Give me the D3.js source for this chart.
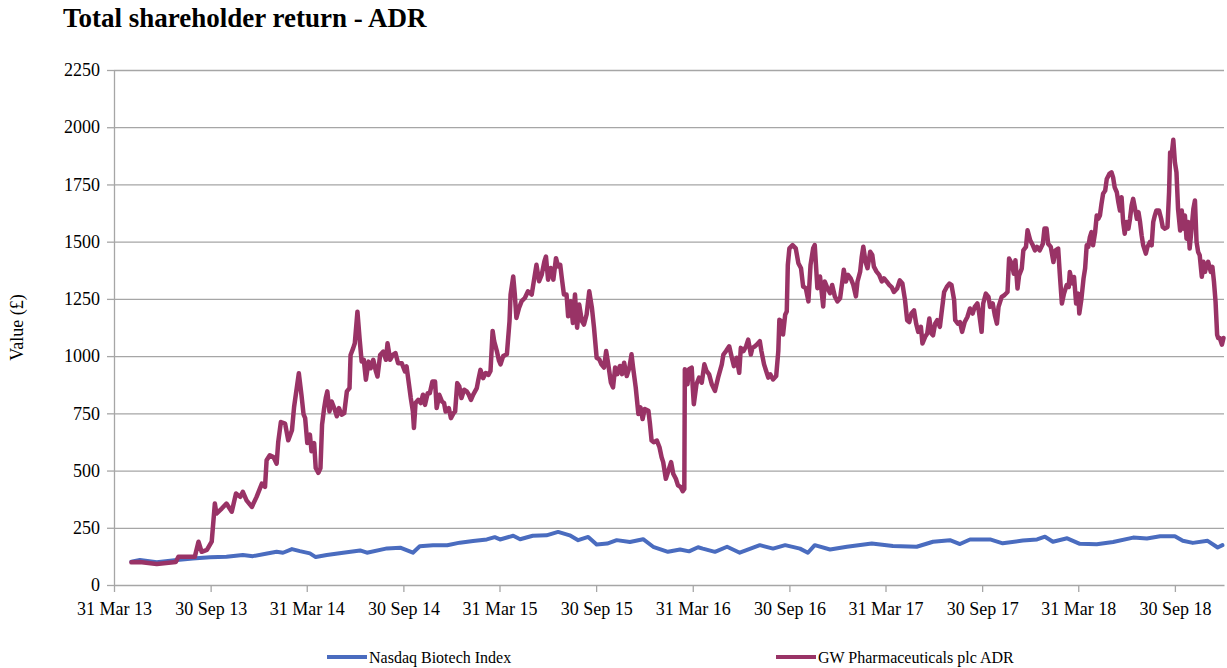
<!DOCTYPE html>
<html>
<head>
<meta charset="utf-8">
<script src="https://cdn.jsdelivr.net/npm/d3@7"></script>
<style>
body { margin: 0; background: #fff; }
svg text { font-family: "Liberation Serif", "Times New Roman", serif; fill: #000; }
.axis path, .axis line { stroke: #a6a6a6; stroke-width: 1.3; }
.grid line { stroke: #a6a6a6; stroke-width: 1.3; }
.grid path { display: none; }
</style>
</head>
<body>
<svg width="1227" height="668"></svg>
<script>
var seriesNames = ["Nasdaq Biotech Index", "GW Pharmaceuticals plc ADR"];
var seriesColors = ["#4a6cbf", "#993366"];

var tickDates = ["2013-03-31", "2013-09-30", "2014-03-31", "2014-09-30", "2015-03-31", "2015-09-30",
    "2016-03-31", "2016-09-30", "2017-03-31", "2017-09-30", "2018-03-31", "2018-09-30"];
var tickLabels = ["31 Mar 13", "30 Sep 13", "31 Mar 14", "30 Sep 14", "31 Mar 15", "30 Sep 15",
    "31 Mar 16", "30 Sep 16", "31 Mar 17", "30 Sep 17", "31 Mar 18", "30 Sep 18"];
var yTicks = [0, 250, 500, 750, 1000, 1250, 1500, 1750, 2000, 2250];

var nasdaq = [
    ["2013-05-03", 102], ["2013-05-19", 109], ["2013-06-20", 99], ["2013-07-28", 109], ["2013-08-27", 116],
    ["2013-09-29", 121], ["2013-10-30", 123], ["2013-11-30", 131], ["2013-12-19", 126], ["2014-01-15", 138],
    ["2014-02-02", 145], ["2014-02-14", 141], ["2014-03-03", 157], ["2014-03-18", 148], ["2014-04-06", 138],
    ["2014-04-17", 122], ["2014-05-08", 131], ["2014-06-08", 141], ["2014-07-10", 151], ["2014-07-23", 141],
    ["2014-08-30", 160], ["2014-09-24", 163], ["2014-10-18", 141], ["2014-10-31", 169], ["2014-11-25", 174],
    ["2014-12-22", 174], ["2015-01-15", 185], ["2015-02-09", 192], ["2015-03-07", 199], ["2015-03-22", 209],
    ["2015-04-01", 199], ["2015-04-26", 215], ["2015-05-09", 200], ["2015-06-02", 215], ["2015-06-28", 217],
    ["2015-07-20", 232], ["2015-08-11", 217], ["2015-08-27", 196], ["2015-09-15", 210], ["2015-10-01", 177],
    ["2015-10-21", 181], ["2015-11-08", 196], ["2015-12-03", 188], ["2015-12-28", 200], ["2016-01-16", 167],
    ["2016-02-13", 145], ["2016-03-07", 155], ["2016-03-24", 147], ["2016-04-10", 165], ["2016-04-19", 159],
    ["2016-05-12", 145], ["2016-06-04", 167], ["2016-06-28", 141], ["2016-08-05", 174], ["2016-08-30", 159],
    ["2016-09-22", 174], ["2016-10-20", 159], ["2016-11-04", 141], ["2016-11-17", 174], ["2016-12-16", 155],
    ["2017-01-17", 167], ["2017-03-05", 181], ["2017-04-14", 170], ["2017-05-29", 167], ["2017-06-29", 189],
    ["2017-07-31", 196], ["2017-08-19", 179], ["2017-09-07", 199], ["2017-10-15", 199], ["2017-11-08", 182],
    ["2017-12-16", 194], ["2018-01-12", 199], ["2018-01-27", 211], ["2018-02-11", 189], ["2018-03-10", 204],
    ["2018-04-03", 180], ["2018-05-05", 178], ["2018-06-05", 188], ["2018-07-13", 207], ["2018-08-08", 203],
    ["2018-09-02", 213], ["2018-09-30", 213], ["2018-10-15", 193], ["2018-11-03", 184], ["2018-12-01", 193],
    ["2018-12-20", 164], ["2018-12-29", 174]
];

var gw = [
    ["2013-05-03", 99], ["2013-05-19", 100], ["2013-06-20", 92], ["2013-07-26", 100], ["2013-07-31", 123], ["2013-08-31", 123],
    ["2013-09-07", 189], ["2013-09-13", 145], ["2013-09-23", 153], ["2013-10-02", 189], ["2013-10-08", 356], ["2013-10-11", 312],
    ["2013-10-21", 334], ["2013-10-30", 356], ["2013-11-09", 320], ["2013-11-17", 400], ["2013-11-25", 385], ["2013-11-30", 407],
    ["2013-12-07", 370], ["2013-12-17", 341], ["2013-12-26", 385], ["2014-01-05", 443], ["2014-01-11", 429], ["2014-01-14", 545],
    ["2014-01-20", 567], ["2014-01-27", 559], ["2014-02-02", 530], ["2014-02-05", 625], ["2014-02-10", 712], ["2014-02-18", 705],
    ["2014-02-24", 632], ["2014-03-03", 676], ["2014-03-07", 777], ["2014-03-16", 925], ["2014-03-21", 830], ["2014-03-25", 745],
    ["2014-03-28", 729], ["2014-04-01", 620], ["2014-04-06", 657], ["2014-04-09", 584], ["2014-04-14", 620], ["2014-04-17", 511],
    ["2014-04-22", 490], ["2014-04-26", 511], ["2014-04-29", 700], ["2014-05-03", 773], ["2014-05-06", 817], ["2014-05-09", 846],
    ["2014-05-13", 758], ["2014-05-17", 802], ["2014-05-22", 773], ["2014-05-27", 737], ["2014-05-31", 773], ["2014-06-05", 744],
    ["2014-06-10", 751], ["2014-06-15", 846], ["2014-06-20", 860], ["2014-06-22", 1005], ["2014-06-27", 1035], ["2014-06-30", 1056],
    ["2014-07-05", 1194], ["2014-07-09", 1078], ["2014-07-13", 976], ["2014-07-17", 984], ["2014-07-21", 897], ["2014-07-26", 976],
    ["2014-07-30", 947], ["2014-08-04", 984], ["2014-08-09", 933], ["2014-08-12", 911], ["2014-08-17", 1005], ["2014-08-23", 1020],
    ["2014-08-28", 984], ["2014-08-31", 1056], ["2014-09-05", 984], ["2014-09-10", 1005], ["2014-09-15", 1013], ["2014-09-20", 969],
    ["2014-09-27", 969], ["2014-10-03", 933], ["2014-10-06", 955], ["2014-10-09", 904], ["2014-10-14", 817], ["2014-10-18", 758],
    ["2014-10-20", 686], ["2014-10-23", 795], ["2014-10-28", 809], ["2014-11-02", 795], ["2014-11-06", 831], ["2014-11-10", 787],
    ["2014-11-15", 838], ["2014-11-19", 838], ["2014-11-24", 889], ["2014-11-29", 889], ["2014-12-02", 773], ["2014-12-07", 831],
    ["2014-12-12", 802], ["2014-12-16", 795], ["2014-12-19", 758], ["2014-12-25", 773], ["2014-12-29", 729], ["2015-01-03", 751],
    ["2015-01-06", 758], ["2015-01-10", 882], ["2015-01-14", 867], ["2015-01-18", 817], ["2015-01-23", 853], ["2015-01-28", 846],
    ["2015-02-01", 831], ["2015-02-05", 809], ["2015-02-09", 831], ["2015-02-16", 860], ["2015-02-19", 897], ["2015-02-23", 940],
    ["2015-02-28", 904], ["2015-03-05", 926], ["2015-03-10", 918], ["2015-03-14", 935], ["2015-03-18", 1110], ["2015-03-21", 1064],
    ["2015-03-26", 1022], ["2015-03-30", 980], ["2015-04-02", 964], ["2015-04-07", 1000], ["2015-04-14", 1008], ["2015-04-19", 1153],
    ["2015-04-21", 1269], ["2015-04-26", 1348], ["2015-04-29", 1269], ["2015-05-02", 1167], ["2015-05-07", 1211], ["2015-05-12", 1240],
    ["2015-05-18", 1254], ["2015-05-24", 1283], ["2015-05-31", 1269], ["2015-06-04", 1327], ["2015-06-09", 1399], ["2015-06-14", 1327],
    ["2015-06-19", 1356], ["2015-06-24", 1414], ["2015-06-27", 1435], ["2015-07-01", 1334], ["2015-07-06", 1385], ["2015-07-11", 1334],
    ["2015-07-16", 1428], ["2015-07-20", 1392], ["2015-07-24", 1399], ["2015-07-27", 1341], ["2015-07-31", 1269], ["2015-08-05", 1269],
    ["2015-08-08", 1174], ["2015-08-13", 1240], ["2015-08-17", 1145], ["2015-08-21", 1269], ["2015-08-25", 1124], ["2015-08-29", 1225],
    ["2015-09-03", 1153], ["2015-09-07", 1138], ["2015-09-12", 1182], ["2015-09-17", 1283], ["2015-09-22", 1211], ["2015-09-26", 1124],
    ["2015-10-01", 993], ["2015-10-06", 986], ["2015-10-10", 964], ["2015-10-15", 950], ["2015-10-19", 1022], ["2015-10-23", 964],
    ["2015-10-28", 884], ["2015-11-01", 863], ["2015-11-05", 950], ["2015-11-09", 921], ["2015-11-14", 957], ["2015-11-18", 921],
    ["2015-11-22", 971], ["2015-11-27", 913], ["2015-12-02", 950], ["2015-12-06", 1008], ["2015-12-09", 950], ["2015-12-14", 863],
    ["2015-12-19", 747], ["2015-12-23", 776], ["2015-12-27", 725], ["2015-12-31", 769], ["2016-01-07", 761], ["2016-01-10", 703],
    ["2016-01-13", 631], ["2016-01-17", 624], ["2016-01-23", 631], ["2016-01-28", 602], ["2016-02-01", 558], ["2016-02-04", 537],
    ["2016-02-09", 464], ["2016-02-14", 500], ["2016-02-19", 537], ["2016-02-23", 486], ["2016-02-28", 464], ["2016-03-03", 435],
    ["2016-03-08", 428], ["2016-03-12", 410], ["2016-03-15", 420], ["2016-03-16", 943], ["2016-03-21", 877], ["2016-03-24", 943],
    ["2016-03-29", 950], ["2016-03-31", 862], ["2016-04-02", 790], ["2016-04-07", 877], ["2016-04-12", 906], ["2016-04-17", 884],
    ["2016-04-22", 964], ["2016-04-26", 935], ["2016-05-01", 920], ["2016-05-06", 877], ["2016-05-12", 848], ["2016-05-18", 906],
    ["2016-05-25", 964], ["2016-05-28", 1007], ["2016-06-02", 1022], ["2016-06-08", 1043], ["2016-06-13", 993], ["2016-06-17", 956],
    ["2016-06-22", 993], ["2016-06-27", 927], ["2016-06-30", 1036], ["2016-07-05", 1022], ["2016-07-10", 1043], ["2016-07-14", 1072],
    ["2016-07-19", 1007], ["2016-07-22", 1036], ["2016-07-27", 1043], ["2016-07-30", 1050], ["2016-08-05", 1065], ["2016-08-08", 1022],
    ["2016-08-13", 964], ["2016-08-17", 935], ["2016-08-21", 906], ["2016-08-25", 920], ["2016-08-30", 898], ["2016-09-05", 913],
    ["2016-09-09", 1022], ["2016-09-11", 1159], ["2016-09-15", 1152], ["2016-09-18", 1094], ["2016-09-22", 1181], ["2016-09-25", 1195],
    ["2016-09-27", 1398], ["2016-09-30", 1471], ["2016-10-06", 1485], ["2016-10-12", 1471], ["2016-10-17", 1406], ["2016-10-22", 1384],
    ["2016-10-26", 1304], ["2016-10-31", 1297], ["2016-11-05", 1239], ["2016-11-09", 1398], ["2016-11-14", 1471], ["2016-11-17", 1485],
    ["2016-11-22", 1297], ["2016-11-27", 1348], ["2016-11-30", 1282], ["2016-12-03", 1217], ["2016-12-06", 1326], ["2016-12-11", 1297],
    ["2016-12-16", 1275], ["2016-12-20", 1311], ["2016-12-25", 1261], ["2016-12-30", 1239], ["2017-01-04", 1253], ["2017-01-09", 1340],
    ["2017-01-11", 1377], ["2017-01-15", 1326], ["2017-01-19", 1355], ["2017-01-24", 1340], ["2017-01-29", 1311], ["2017-02-03", 1261],
    ["2017-02-06", 1326], ["2017-02-11", 1369], ["2017-02-14", 1434], ["2017-02-17", 1478], ["2017-02-21", 1413], ["2017-02-25", 1384],
    ["2017-03-02", 1456], ["2017-03-06", 1442], ["2017-03-09", 1391], ["2017-03-14", 1369], ["2017-03-19", 1355], ["2017-03-24", 1326],
    ["2017-03-28", 1340], ["2017-04-02", 1326], ["2017-04-07", 1311], ["2017-04-12", 1300], ["2017-04-16", 1280], ["2017-04-22", 1295],
    ["2017-04-27", 1331], ["2017-05-02", 1317], ["2017-05-07", 1244], ["2017-05-11", 1157], ["2017-05-15", 1149], ["2017-05-19", 1186],
    ["2017-05-24", 1200], ["2017-05-28", 1142], ["2017-06-01", 1106], ["2017-06-06", 1128], ["2017-06-09", 1055], ["2017-06-14", 1084],
    ["2017-06-18", 1099], ["2017-06-22", 1164], ["2017-06-26", 1099], ["2017-06-29", 1091], ["2017-07-03", 1142], ["2017-07-07", 1157],
    ["2017-07-12", 1128], ["2017-07-15", 1186], ["2017-07-20", 1280], ["2017-07-25", 1302], ["2017-07-30", 1317], ["2017-08-03", 1310],
    ["2017-08-08", 1244], ["2017-08-10", 1157], ["2017-08-15", 1142], ["2017-08-19", 1149], ["2017-08-23", 1106], ["2017-08-28", 1149],
    ["2017-09-02", 1171], ["2017-09-07", 1208], ["2017-09-12", 1186], ["2017-09-16", 1215], ["2017-09-21", 1230], ["2017-09-24", 1193],
    ["2017-09-29", 1106], ["2017-10-02", 1230], ["2017-10-07", 1273], ["2017-10-12", 1259], ["2017-10-15", 1215], ["2017-10-20", 1230],
    ["2017-10-24", 1179], ["2017-10-28", 1142], ["2017-10-31", 1215], ["2017-11-06", 1259], ["2017-11-11", 1266], ["2017-11-17", 1280],
    ["2017-11-20", 1426], ["2017-11-25", 1404], ["2017-11-29", 1360], ["2017-12-02", 1419], ["2017-12-06", 1295], ["2017-12-09", 1353],
    ["2017-12-14", 1382], ["2017-12-17", 1462], ["2017-12-22", 1477], ["2017-12-25", 1550], ["2017-12-30", 1506], ["2018-01-04", 1484],
    ["2018-01-08", 1462], ["2018-01-12", 1477], ["2018-01-17", 1462], ["2018-01-23", 1491], ["2018-01-26", 1557], ["2018-01-30", 1557],
    ["2018-02-02", 1491], ["2018-02-07", 1477], ["2018-02-12", 1411], ["2018-02-16", 1462], ["2018-02-21", 1470], ["2018-02-24", 1360],
    ["2018-02-28", 1230], ["2018-03-04", 1273], ["2018-03-09", 1310], ["2018-03-13", 1302], ["2018-03-15", 1368], ["2018-03-20", 1317],
    ["2018-03-23", 1346], ["2018-03-27", 1230], ["2018-03-31", 1273], ["2018-04-02", 1186], ["2018-04-06", 1250], ["2018-04-10", 1339],
    ["2018-04-13", 1383], ["2018-04-16", 1484], ["2018-04-19", 1477], ["2018-04-22", 1520], ["2018-04-25", 1542], ["2018-04-28", 1484],
    ["2018-05-02", 1542], ["2018-05-05", 1614], ["2018-05-08", 1600], ["2018-05-11", 1614], ["2018-05-14", 1665], ["2018-05-17", 1709],
    ["2018-05-21", 1723], ["2018-05-24", 1774], ["2018-05-29", 1796], ["2018-06-02", 1803], ["2018-06-05", 1781], ["2018-06-08", 1737],
    ["2018-06-12", 1716], ["2018-06-15", 1672], ["2018-06-18", 1636], ["2018-06-21", 1694], ["2018-06-24", 1586], ["2018-06-27", 1535],
    ["2018-06-30", 1586], ["2018-07-04", 1557], ["2018-07-07", 1600], ["2018-07-10", 1658], ["2018-07-13", 1687], ["2018-07-16", 1651],
    ["2018-07-20", 1600], ["2018-07-23", 1629], ["2018-07-26", 1586], ["2018-07-29", 1528], ["2018-08-01", 1484], ["2018-08-06", 1448],
    ["2018-08-09", 1477], ["2018-08-14", 1499], ["2018-08-17", 1484], ["2018-08-20", 1586], ["2018-08-23", 1614], ["2018-08-26", 1636],
    ["2018-08-31", 1636], ["2018-09-04", 1600], ["2018-09-07", 1564], ["2018-09-11", 1557], ["2018-09-16", 1564], ["2018-09-19", 1716],
    ["2018-09-21", 1890], ["2018-09-24", 1882], ["2018-09-27", 1945], ["2018-09-30", 1846], ["2018-10-03", 1803], ["2018-10-06", 1643],
    ["2018-10-10", 1549], ["2018-10-13", 1636], ["2018-10-16", 1557], ["2018-10-19", 1614], ["2018-10-22", 1513], ["2018-10-25", 1586],
    ["2018-10-28", 1470], ["2018-10-31", 1542], ["2018-11-04", 1643], ["2018-11-07", 1680], ["2018-11-10", 1499], ["2018-11-13", 1455],
    ["2018-11-16", 1441], ["2018-11-20", 1347], ["2018-11-23", 1412], ["2018-11-26", 1368], ["2018-11-29", 1397], ["2018-12-02", 1412],
    ["2018-12-07", 1368], ["2018-12-10", 1390], ["2018-12-13", 1325], ["2018-12-16", 1238], ["2018-12-19", 1093], ["2018-12-21", 1079],
    ["2018-12-24", 1079], ["2018-12-28", 1050], ["2018-12-31", 1079]
];

var svg = d3.select("svg"),
    margin = { top: 70, right: 3, bottom: 83, left: 114 },
    width = +svg.attr("width") - margin.left - margin.right,
    height = +svg.attr("height") - margin.top - margin.bottom;

var parseDate = d3.timeParse("%Y-%m-%d");

var x = d3.scaleTime()
    .domain([parseDate("2013-03-31"), parseDate("2019-01-01")])
    .range([0, width]);
var y = d3.scaleLinear()
    .domain([0, 2250])
    .range([height, 0]);

svg.append("text")
    .attr("x", 63)
    .attr("y", 27)
    .style("font-size", "27px")
    .style("font-weight", "bold")
    .text("Total shareholder return - ADR");

svg.append("text")
    .attr("transform", "translate(23," + (margin.top + height / 2) + ") rotate(-90)")
    .attr("text-anchor", "middle")
    .style("font-size", "18px")
    .text("Value (£)");

var g = svg.append("g")
    .attr("transform", "translate(" + margin.left + "," + margin.top + ")");

g.append("g")
    .attr("class", "grid")
    .call(d3.axisLeft(y).tickValues(yTicks.slice(1)).tickSize(-width).tickFormat(""));

g.append("g")
    .attr("class", "axis axis--y")
    .call(d3.axisLeft(y).tickValues(yTicks).tickFormat(d3.format("d"))
        .tickSize(7).tickSizeOuter(0).tickPadding(7))
    .selectAll("text")
    .style("font-size", "18px");

g.append("g")
    .attr("class", "axis axis--x")
    .attr("transform", "translate(0," + height + ")")
    .call(d3.axisBottom(x)
        .tickValues(tickDates.map(parseDate))
        .tickFormat(function(d, i) { return tickLabels[i]; })
        .tickSize(7).tickSizeOuter(0).tickPadding(10))
    .selectAll("text")
    .style("font-size", "18px");

var line = d3.line()
    .x(function(d) { return x(parseDate(d[0])); })
    .y(function(d) { return y(d[1]); });

[nasdaq, gw].forEach(function(series, i) {
    g.append("path")
        .datum(series)
        .attr("fill", "none")
        .attr("stroke", seriesColors[i])
        .attr("stroke-width", i == 0 ? 4 : 4.5)
        .attr("stroke-linejoin", "round")
        .attr("stroke-linecap", "round")
        .attr("d", line);
});

var legendX = [327, 776];
var legend = svg.selectAll(".legend")
    .data(seriesNames)
    .enter().append("g")
    .attr("class", "legend")
    .attr("transform", function(d, i) { return "translate(" + legendX[i] + ",657)"; });

legend.append("line")
    .attr("x1", 0).attr("x2", 40)
    .attr("stroke", function(d, i) { return seriesColors[i]; })
    .attr("stroke-width", 4);

legend.append("text")
    .attr("x", 42)
    .attr("dy", "0.35em")
    .style("font-size", "16px")
    .text(function(d) { return d; });
</script>
</body>
</html>
